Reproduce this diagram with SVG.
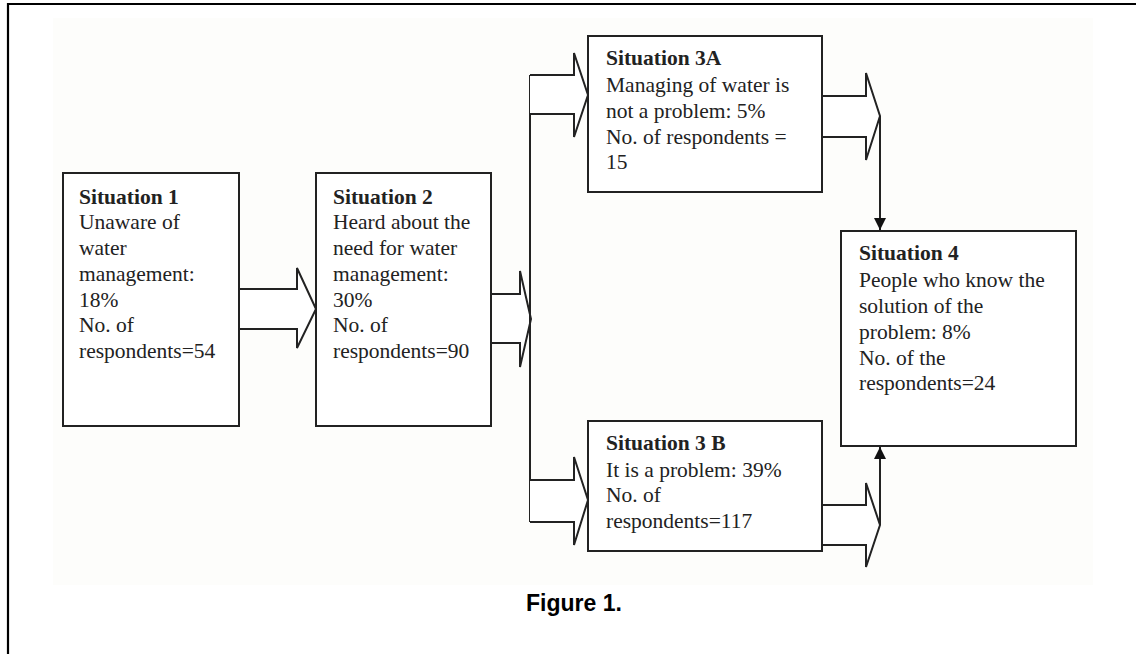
<svg xmlns="http://www.w3.org/2000/svg" width="1136" height="654" viewBox="0 0 1136 654">
<defs>
<style>
.box{fill:#fff;stroke:#222;stroke-width:2}
.blk{fill:#fff;stroke:#222;stroke-width:2;stroke-linejoin:miter}
.ln{fill:none;stroke:#222;stroke-width:2}
.t{font-family:"Liberation Serif","Times New Roman",serif;font-size:21.5px;fill:#222}
.b{font-weight:bold}
.cap{font-family:"Liberation Sans",Arial,sans-serif;font-size:23px;font-weight:bold;fill:#000}
</style>
<marker id="ah" viewBox="0 0 12 12" refX="12" refY="6" markerWidth="12" markerHeight="12" markerUnits="userSpaceOnUse" orient="auto">
<path d="M0,0 L12,6 L0,12 Z" fill="#111"/>
</marker>
</defs>
<rect x="0" y="0" width="1136" height="654" fill="#fff"/>
<rect x="53" y="18" width="1040" height="567" fill="#fdfdfb"/>
<g id="frame">
<line x1="7" y1="4" x2="1136" y2="4" stroke="#000" stroke-width="2.2"/>
<line x1="8" y1="3" x2="8" y2="654" stroke="#000" stroke-width="2.2"/>
</g>
<g id="connectors">
<path class="blk" d="M239,289 L297,289 L297,268 L316,309 L297,348 L297,329 L239,329"/>
<path class="blk" d="M491,294 L520,294 L520,271 L531,319 L520,367 L520,343 L491,343"/>
<path class="ln" d="M530,75 L530,522"/>
<path class="blk" d="M530,75 L574,75 L574,53 L588,95 L574,137 L574,114 L530,114"/>
<path class="blk" d="M530,480 L574,480 L574,457 L588,500 L574,545 L574,522 L530,522"/>
<path class="blk" d="M822,96 L866,96 L866,73 L880,116 L866,160 L866,137 L822,137"/>
<path class="blk" d="M822,505 L866,505 L866,483 L880,525 L866,567 L866,545 L822,545"/>
<line class="ln" x1="880" y1="116" x2="880" y2="230" marker-end="url(#ah)"/>
<line class="ln" x1="880" y1="525" x2="880" y2="447" marker-end="url(#ah)"/>
</g>
<g id="situation1">
<rect class="box" x="63" y="173" width="176" height="253"/>
<text class="t b" x="79" y="204">Situation 1</text>
<text class="t" x="79" y="229">Unaware of</text>
<text class="t" x="79" y="255">water</text>
<text class="t" x="79" y="281">management:</text>
<text class="t" x="79" y="307">18%</text>
<text class="t" x="79" y="332">No. of</text>
<text class="t" x="79" y="358">respondents=54</text>
</g>
<g id="situation2">
<rect class="box" x="316" y="173" width="175" height="253"/>
<text class="t b" x="333" y="204">Situation 2</text>
<text class="t" x="333" y="229">Heard about the</text>
<text class="t" x="333" y="255">need for water</text>
<text class="t" x="333" y="281">management:</text>
<text class="t" x="333" y="307">30%</text>
<text class="t" x="333" y="332">No. of</text>
<text class="t" x="333" y="358">respondents=90</text>
</g>
<g id="situation3a">
<rect class="box" x="588" y="36" width="234" height="156"/>
<text class="t b" x="606" y="65">Situation 3A</text>
<text class="t" x="606" y="92">Managing of water is</text>
<text class="t" x="606" y="118">not a problem: 5%</text>
<text class="t" x="606" y="144">No. of respondents =</text>
<text class="t" x="606" y="169">15</text>
</g>
<g id="situation3b">
<rect class="box" x="588" y="421" width="234" height="130"/>
<text class="t b" x="606" y="450">Situation 3 B</text>
<text class="t" x="606" y="477">It is a problem: 39%</text>
<text class="t" x="606" y="502">No. of</text>
<text class="t" x="606" y="528">respondents=117</text>
</g>
<g id="situation4">
<rect class="box" x="841" y="231" width="235" height="215"/>
<text class="t b" x="859" y="260">Situation 4</text>
<text class="t" x="859" y="287">People who know the</text>
<text class="t" x="859" y="313">solution of the</text>
<text class="t" x="859" y="339">problem: 8%</text>
<text class="t" x="859" y="365">No. of the</text>
<text class="t" x="859" y="390">respondents=24</text>
</g>
<text class="cap" x="526" y="611">Figure 1.</text>
</svg>
